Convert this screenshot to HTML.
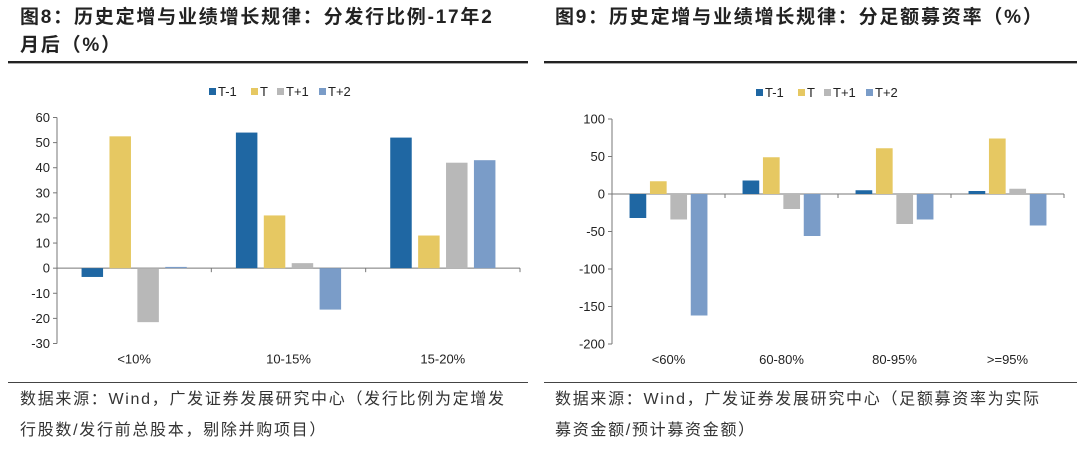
<!DOCTYPE html>
<html><head><meta charset="utf-8">
<style>
body{margin:0;background:#fff;width:1080px;height:452px;overflow:hidden;position:relative;font-family:"Liberation Sans","Noto Sans CJK SC",sans-serif}
.t{position:absolute;font-weight:bold;font-size:19px;color:#222;line-height:28px;letter-spacing:1.8px;white-space:nowrap}
.s{position:absolute;font-size:16px;color:#333;line-height:31px;letter-spacing:1.7px;white-space:nowrap}
.hl{position:absolute;height:2px;background:#222;border-bottom:1px solid #aaa}
.bl{position:absolute;height:1px;background:#444}
svg{position:absolute;left:0;top:0}
svg text{font-family:"Liberation Sans",sans-serif;font-size:13px;fill:#222}
</style></head><body>
<div class="t" style="left:20px;top:4px">图8：历史定增与业绩增长规律：分发行比例-17年2<br>月后（%）</div>
<div class="t" style="left:555px;top:4px">图9：历史定增与业绩增长规律：分足额募资率（%）</div>
<div class="hl" style="left:8px;top:61px;width:520px"></div>
<div class="hl" style="left:544px;top:61px;width:533px"></div>
<div class="bl" style="left:8px;top:382px;width:520px"></div>
<div class="bl" style="left:544px;top:382px;width:533px"></div>
<div class="s" style="left:20px;top:384px">数据来源：Wind，广发证券发展研究中心（发行比例为定增发<br>行股数/发行前总股本，剔除并购项目）</div>
<div class="s" style="left:555px;top:384px">数据来源：Wind，广发证券发展研究中心（足额募资率为实际<br>募资金额/预计募资金额）</div>
<svg id="chart" width="1080" height="452"></svg>
<script>
const seriesNames=["T-1","T","T+1","T+2"];
const colors=["#1f67a3","#e6c862","#b8b8b8","#7a9cc8"];
const leftCats=["<10%","10-15%","15-20%"];
const leftTm1=[-3.5,54,52];
const leftT=[52.5,21,13];
const leftTp1=[-21.5,2,42];
const leftTp2=[0.5,-16.5,43];
const leftTicks=[60,50,40,30,20,10,0,-10,-20,-30];
const rightCats=["<60%","60-80%","80-95%",">=95%"];
const rightTm1=[-32,18,5,4];
const rightT=[17,49,61,74];
const rightTp1=[-34,-20,-40,7];
const rightTp2=[-162,-56,-34,-42];
const rightTicks=[100,50,0,-50,-100,-150,-200];

const svg=document.getElementById('chart');
const NS="http://www.w3.org/2000/svg";
function mk(tag,attrs){const e=document.createElementNS(NS,tag);for(const k in attrs)e.setAttribute(k,attrs[k]);svg.appendChild(e);return e;}

function draw(cfg){
  const {x0,x1,yTop,yBot,max,min,cats,series,ticks,barW,pitch,legX,legY,pfx}=cfg;
  const y=v=>yTop+(max-v)/(max-min)*(yBot-yTop);
  const cw=(x1-x0)/cats.length;
  let ax=mk('line',{x1:x0,y1:yTop,x2:x0,y2:yBot,stroke:'#777','stroke-width':1});
  
  ticks.forEach(t=>{
    let l=mk('line',{x1:x0-4,y1:y(t),x2:x0,y2:y(t),stroke:'#777'});
    
    let tx=mk('text',{x:x0-7,y:y(t)+4.5,'text-anchor':'end'});tx.textContent=t;
    
  });
  let xa=mk('line',{x1:x0,y1:y(0),x2:x1,y2:y(0),stroke:'#777'});
  
  for(let i=0;i<=cats.length;i++){
    let l=mk('line',{x1:x0+i*cw,y1:y(0),x2:x0+i*cw,y2:y(0)+4,stroke:'#777'});
    
  }
  cats.forEach((c,i)=>{
    const cx=x0+(i+.5)*cw;
    let tx=mk('text',{x:cx,y:yBot+20,'text-anchor':'middle'});tx.textContent=c;
    
    series.forEach((s,j)=>{
      const v=s[i];const bx=cx+(j-1.5)*pitch-barW/2;
      const ya=y(Math.max(v,0)),yb=y(Math.min(v,0));
      let r=mk('rect',{x:bx,y:ya,width:barW,height:Math.max(yb-ya,0.8),fill:colors[j]});
      
      
    });
  });
  let lx=legX;
  seriesNames.forEach((n,j)=>{
    let r=mk('rect',{x:lx,y:legY-4,width:7,height:7,fill:colors[j]});
    
    let t=mk('text',{x:lx+9,y:legY+4});t.textContent=n;
    
    lx+=9+n.length*8+9;
  });
}
draw({x0:57,x1:520,yTop:117.5,yBot:343.5,max:60,min:-30,cats:leftCats,series:[leftTm1,leftT,leftTp1,leftTp2],ticks:leftTicks,barW:21.5,pitch:27.9,legX:209,legY:92,pfx:'left'});
draw({x0:612,x1:1064,yTop:119,yBot:344,max:100,min:-200,cats:rightCats,series:[rightTm1,rightT,rightTp1,rightTp2],ticks:rightTicks,barW:16.7,pitch:20.4,legX:756,legY:93,pfx:'right'});
</script>
</body></html>
